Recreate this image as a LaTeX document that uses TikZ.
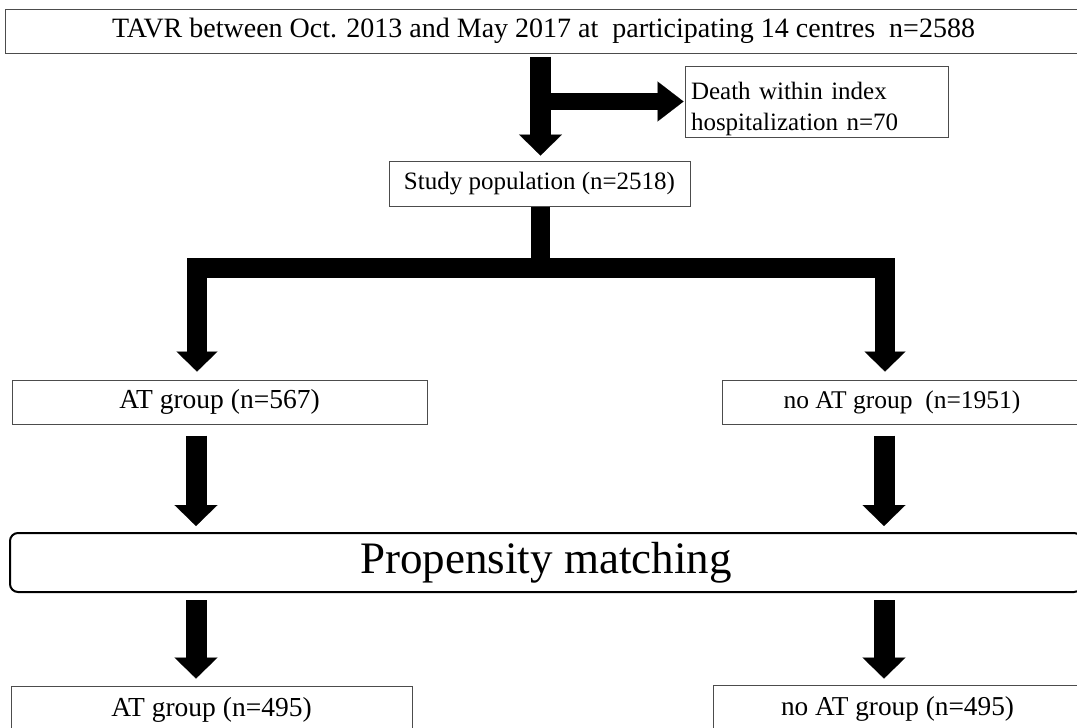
\documentclass[tikz,border=0pt]{standalone}
\usepackage{fontspec}
\setmainfont{Liberation Serif}
\usetikzlibrary{arrows.meta}
\tikzset{
  box/.style={draw=black!70, line width=1pt, inner sep=0pt, anchor=center, fill=white},
  fat/.style={line width=21pt, line join=miter, draw=black,
    -{Triangle[width=43pt 0 0, length=21pt 0 0, line width=0.1pt 0 0]}},
  side/.style={line width=17pt, draw=black,
    -{Triangle[width=40pt 0 0, length=26pt 0 0, line width=0.1pt 0 0]}},
  branch/.style={line width=20pt, line join=miter, draw=black,
    {Triangle[width=41pt 0 0, length=20pt 0 0, line width=0.1pt 0 0]}-{Triangle[width=41pt 0 0, length=20pt 0 0, line width=0.1pt 0 0]}},
  fs/.style={font=\fontsize{#1}{#1}\selectfont}
}
\begin{document}
\begin{tikzpicture}[x=1pt,y=-1pt]
\useasboundingbox (0,0) rectangle (1077,728);
\clip (0,0) rectangle (1077,728);
\fill[white] (0,0) rectangle (1077,728);

\node[box, fs=28, minimum width=1077pt, minimum height=44pt] (top) at (543.5,31)
  {TAVR between Oct. 2013 and May 2017 at \ participating 14 centres \ n=2588};
\node[box, font=\fontsize{25}{31}\selectfont, minimum width=263pt, minimum height=71pt,
  text width=251pt, align=left, inner xsep=6pt, text height=32pt] (death) at (816.5,101.5)
  {Death within index\\hospitalization n=70};
\node[box, fs=25, minimum width=301pt, minimum height=45pt] (study) at (539.5,183.5)
  {Study population (n=2518)};
\node[box, fs=27.5, minimum width=415pt, minimum height=44pt] (at1) at (219.5,402)
  {AT group (n=567)};
\node[box, fs=25.5, minimum width=360pt, minimum height=44pt] (noat1) at (902,402)
  {no AT group \ (n=1951)};
\node[box, draw=black, line width=2pt, rounded corners=8pt, fs=45,
  minimum width=1072pt, minimum height=59pt] (prop) at (546,562.5)
  {Propensity matching};
\node[box, fs=27.5, minimum width=401pt, minimum height=48pt] (at2) at (211.5,710)
  {AT group (n=495)};
\node[box, fs=27.3, minimum width=369pt, minimum height=48pt] (noat2) at (897.5,709)
  {no AT group (n=495)};

% main flow
\coordinate (m) at (540.5,0);
\draw[fat, shorten <=3pt, shorten >=5pt] (m |- top.south) -- (m |- study.north);
\coordinate (sj) at (549,101.5);
\draw[side, shorten >=1pt] (sj) -- (death.west);

% split
\coordinate (jn) at (540,268);
\coordinate (lb) at (197,268);
\coordinate (rb) at (885,268);
\draw[line width=19pt, draw=black] (study.south -| jn) -- ([yshift=-2pt]jn);
\draw[branch, shorten <=8pt, shorten >=8pt] (lb |- at1.north) -- (lb) -- (rb) -- (rb |- noat1.north);

% to propensity matching
\coordinate (cl) at (196,0);
\coordinate (cr) at (884,0);
\draw[fat, shorten <=11pt, shorten >=6pt] (cl |- at1.south) -- (cl |- prop.north);
\draw[fat, shorten <=11pt, shorten >=6pt] (cr |- noat1.south) -- (cr |- prop.north);
\draw[fat, shorten <=7pt, shorten >=7pt] (cl |- prop.south) -- (cl |- at2.north);
\draw[fat, shorten <=7pt, shorten >=6pt] (cr |- prop.south) -- (cr |- noat2.north);
\end{tikzpicture}
\end{document}
